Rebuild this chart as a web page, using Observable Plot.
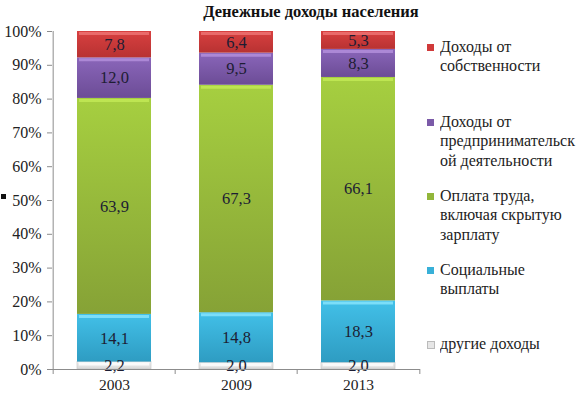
<!DOCTYPE html>
<html><head><meta charset="utf-8">
<script src="https://cdn.jsdelivr.net/npm/d3@7"></script>
<script src="https://cdn.jsdelivr.net/npm/@observablehq/plot@0.6"></script>
<style>
body{margin:0;background:#fff;font-family:'Liberation Serif','Times New Roman',serif;}
#wrap{position:relative;width:585px;height:396px;overflow:hidden;}
#title{position:absolute;top:2px;left:0;width:622px;text-align:center;font-weight:bold;font-size:16.5px;color:#111;font-family:'Liberation Serif','Times New Roman',serif;}
#legend{position:absolute;left:426px;top:0;font-size:16.5px;color:#222;line-height:19.3px;font-family:'Liberation Serif','Times New Roman',serif;}
.item{position:absolute;left:0;width:159px;white-space:nowrap;}
.txt{position:absolute;left:14px;top:0;transform-origin:0 0;display:inline-block;}
.sw{position:absolute;left:1px;top:7px;width:7px;height:7px;}
#dot{position:absolute;left:1px;top:194px;width:5px;height:5px;background:#111;}
</style></head>
<body><div id="wrap"><div id="title">Денежные доходы населения</div><div id="legend"></div><div id="dot"></div></div>
<script>
const years = ["2003", "2009", "2013"];
const series = ["другие доходы", "Социальные выплаты", "Оплата труда, включая скрытую зарплату", "Доходы от предпринимательской деятельности", "Доходы от собственности"];
const other = [2.2, 2.0, 2.0];
const social = [14.1, 14.8, 18.3];
const wage = [63.9, 67.3, 66.1];
const entrepreneurial = [12.0, 9.5, 8.3];
const property = [7.8, 6.4, 5.3];
const colors = ["#e6e6e6", "#38b0d8", "#92b63a", "#7b5aa8", "#d03a3a"];
const gradTop = ["#f4f4f4", "#42c0e8", "#a6cf40", "#8a66ba", "#d84040"];
const gradBottom = ["#d8d8d8", "#2e9cc2", "#86a236", "#6c4c96", "#b83232"];
const topColors = ["#ffffff", "#8fe8ff", "#c6ec58", "#b894e0", "#f07a7a"];
const legendLines = [
  ["Доходы от", "собственности"],
  ["Доходы от", "предпринимательск", "ой деятельности"],
  ["Оплата труда,", "включая скрытую", "зарплату"],
  ["Социальные", "выплаты"],
  ["другие доходы"]
];
const legendTops = [37, 112, 186, 260, 334];
const yTicks = [0, 10, 20, 30, 40, 50, 60, 70, 80, 90, 100];

const valuesBySeries = [other, social, wage, entrepreneurial, property];
const data = [];
series.forEach((s, i) => years.forEach((y, j) => data.push({year: y, series: s, value: valuesBySeries[i][j]})));

const W = 585, H = 396, mL = 52, mR = 165, pInner = 0.39, pOuter = 0.195;
const step = (W - mL - mR) / (years.length - pInner + 2 * pOuter);
const fmt = v => v.toFixed(1).replace(".", ",");
const serif = "'Liberation Serif','Times New Roman',serif";

const chart = Plot.plot({
  width: W, height: H,
  marginLeft: mL, marginRight: mR, marginTop: 31, marginBottom: 27,
  style: {fontFamily: serif, fontSize: "15px", color: "#333", background: "#fff"},
  x: {domain: years, paddingInner: pInner, paddingOuter: pOuter, label: null},
  y: {domain: [0, 100], label: null},
  color: {domain: series, range: series.map((s, i) => `url(#grad${i})`)},
  marks: [
    Plot.barY(data, {x: "year", y: "value", fill: "series", order: series, stroke: d => d.series === series[0] ? "#c4c4c4" : "none", strokeWidth: 0.6}),
    Plot.tickY(data, Plot.stackY2({x: "year", y: "value", z: "series", order: series, stroke: d => topColors[series.indexOf(d.series)], strokeWidth: 3, dy: 2, insetLeft: 2, insetRight: 2, strokeOpacity: 0.75})),
    Plot.text(data, Plot.stackY({x: "year", y: "value", z: "series", order: series, text: d => fmt(d.value), fill: "#1d1d33", fontSize: 16.5, fontFamily: serif})),
    Plot.ruleY([0], {stroke: "#8c8c8c"}),
    Plot.ruleX([years[0]], {x: d => d, y1: 0, y2: 100, dx: -step / 2, stroke: "#8c8c8c"}),
    Plot.ruleX(years, {x: d => d, y1: 0, y2: 0, insetBottom: -5, dx: -step / 2, stroke: "#8c8c8c"}),
    Plot.ruleX([years[years.length - 1]], {x: d => d, y1: 0, y2: 0, insetBottom: -5, dx: step / 2, stroke: "#8c8c8c"}),
    Plot.axisY({ticks: yTicks, tickFormat: d => d + "%", tickSize: 5, tickPadding: 6, stroke: "#8c8c8c", fill: "#222", fontSize: 16, fontFamily: serif}),
    Plot.axisX({tickSize: 0, tickPadding: 9, fill: "#222", fontSize: 15.5, fontFamily: serif})
  ]
});
const defs = d3.select(chart).insert("defs", ":first-child");
series.forEach((s, i) => {
  const g = defs.append("linearGradient").attr("id", `grad${i}`).attr("x1", 0).attr("y1", 0).attr("x2", 0).attr("y2", 1);
  g.append("stop").attr("offset", "0").attr("stop-color", gradTop[i]);
  g.append("stop").attr("offset", "1").attr("stop-color", gradBottom[i]);
});
document.getElementById("wrap").prepend(chart);
chart.style.position = "absolute"; chart.style.left = "0"; chart.style.top = "0";

const leg = document.getElementById("legend");
const spans = [];
legendLines.forEach((lines, i) => {
  const si = series.length - 1 - i;
  const div = document.createElement("div");
  div.className = "item";
  div.style.top = legendTops[i] + "px";
  div.innerHTML = `<span class="sw" style="background:${colors[si]};${si === 0 ? "border:1px solid #bbb;width:6px;height:6px;" : ""}"></span><span class="txt">` + lines.join("<br>") + `</span>`;
  leg.appendChild(div);
  spans.push(div.querySelector(".txt"));
});
// fit the widest legend line to the reference width (~135px)
const widest = Math.max(...spans.map(s => s.getBoundingClientRect().width));
const sx = Math.min(1.15, 135 / widest);
spans.forEach(s => s.style.transform = `scaleX(${sx})`);
</script></body></html>
